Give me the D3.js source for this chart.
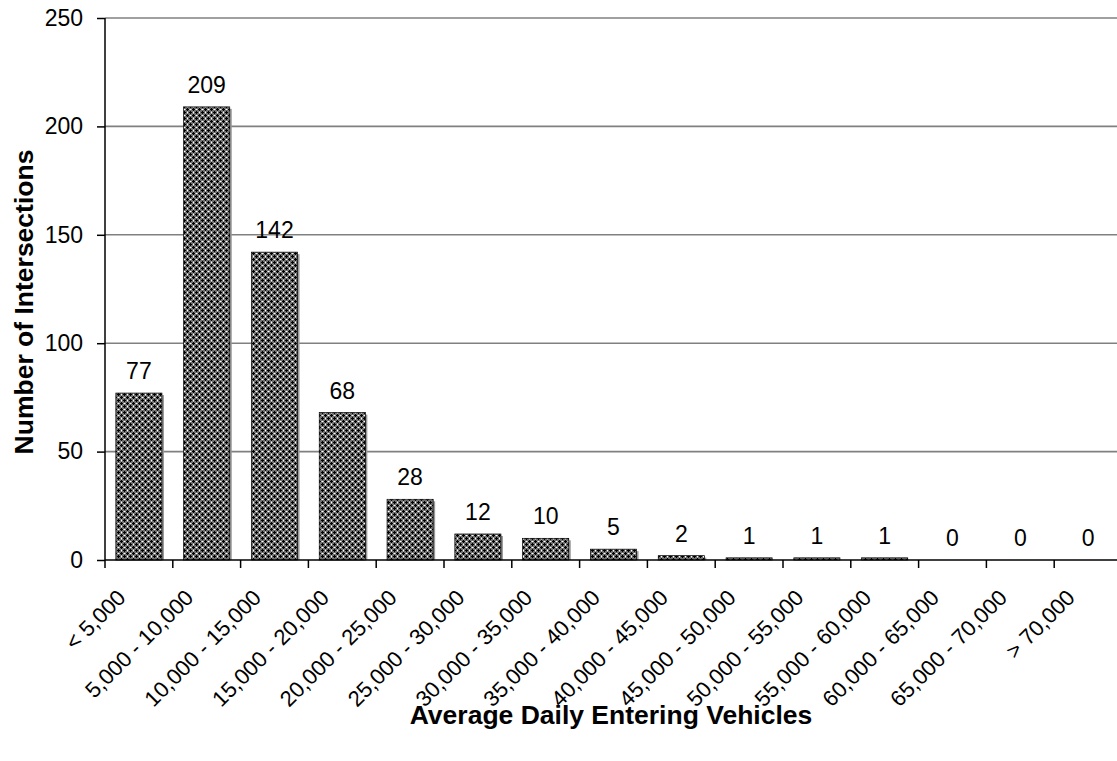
<!DOCTYPE html>
<html>
<head>
<meta charset="utf-8">
<script src="https://cdn.jsdelivr.net/npm/d3@7"></script>
<style>
  html, body { margin: 0; padding: 0; background: #fff; }
  svg { display: block; font-family: "Liberation Sans", Arial, sans-serif; }
</style>
</head>
<body>
<svg id="chart" width="1117" height="761"></svg>
<script>
// Intersection counts by average daily entering vehicle volume
const categories = [
  "< 5,000", "5,000 - 10,000", "10,000 - 15,000", "15,000 - 20,000",
  "20,000 - 25,000", "25,000 - 30,000", "30,000 - 35,000", "35,000 - 40,000",
  "40,000 - 45,000", "45,000 - 50,000", "50,000 - 55,000", "55,000 - 60,000",
  "60,000 - 65,000", "65,000 - 70,000", "> 70,000"
];
const counts = [77, 209, 142, 68, 28, 12, 10, 5, 2, 1, 1, 1, 0, 0, 0];
const yTicks = [0, 50, 100, 150, 200, 250];
const xTitle = "Average Daily Entering Vehicles";
const yTitle = "Number of Intersections";

const svg = d3.select("#chart");
const plotLeft = 105, plotRight = 1122, plotTop = 18, plotBottom = 560;

const x = d3.scaleBand().domain(categories).range([plotLeft, plotRight]).paddingInner(0.32).paddingOuter(0.16);
const xEdge = d3.scaleLinear().domain([0, categories.length]).range([plotLeft, plotRight]);
const y = d3.scaleLinear().domain([0, 250]).range([plotBottom, plotTop]);

// Woven cross-hatch fill for bars
const defs = svg.append("defs");
const pat = defs.append("pattern").attr("id", "hatch")
  .attr("patternUnits", "userSpaceOnUse").attr("width", 6).attr("height", 6);
pat.append("rect").attr("width", 6).attr("height", 6).attr("fill", "#707070");
const cells = [
  [1, 0, "#000"], [0, 1, "#000"], [1, 1, "#000"], [2, 1, "#000"], [1, 2, "#000"],
  [4, 3, "#000"], [3, 4, "#000"], [4, 4, "#000"], [5, 4, "#000"], [4, 5, "#000"],
  [4, 1, "#fff"], [1, 4, "#fff"],
  [3, 1, "#b4b4b4"], [5, 1, "#b4b4b4"], [1, 3, "#b4b4b4"], [1, 5, "#b4b4b4"]
];
cells.forEach(([cx, cy, c]) => {
  pat.append("rect").attr("x", cx).attr("y", cy).attr("width", 1).attr("height", 1).attr("fill", c);
});

// Horizontal gridlines
svg.append("g").selectAll("line").data(yTicks.filter(d => d > 0)).join("line")
  .attr("x1", plotLeft).attr("x2", 1117)
  .attr("y1", d => y(d)).attr("y2", d => y(d))
  .attr("stroke", "#808080").attr("stroke-width", 1.6);

// Bars with a drop shadow
const bars = svg.append("g");
bars.selectAll("rect.shadow").data(counts).join("rect").attr("class", "shadow")
  .attr("x", (d, i) => x(categories[i]) + 2)
  .attr("y", d => y(d) + 2)
  .attr("width", x.bandwidth())
  .attr("height", d => Math.max(0, plotBottom - y(d) - 2))
  .attr("fill", "#999");
bars.selectAll("rect.bar").data(counts).join("rect").attr("class", "bar")
  .attr("x", (d, i) => x(categories[i]))
  .attr("y", d => y(d))
  .attr("width", x.bandwidth())
  .attr("height", d => plotBottom - y(d))
  .attr("fill", "url(#hatch)")
  .attr("stroke", "#000").attr("stroke-width", 0.7);

// Value labels
svg.append("g").selectAll("text").data(counts).join("text")
  .attr("x", (d, i) => x(categories[i]) + x.bandwidth() / 2)
  .attr("y", d => y(d) - 14)
  .attr("text-anchor", "middle")
  .attr("font-size", 23)
  .attr("fill", "#000")
  .text(d => d);

// Y axis
const yAxis = d3.axisLeft(y).tickValues(yTicks).tickSize(8).tickPadding(14);
const gy = svg.append("g").attr("transform", `translate(${plotLeft},0)`).call(yAxis);
gy.select(".domain").attr("stroke", "#000").attr("stroke-width", 1.5).attr("d", `M0,${plotTop}V${plotBottom}`);
gy.selectAll(".tick line").attr("stroke", "#000").attr("stroke-width", 1.5);
gy.selectAll(".tick text").attr("font-size", 23).attr("font-family", "Liberation Sans, Arial, sans-serif").attr("fill", "#000");

// X axis line and category boundary ticks
svg.append("line").attr("x1", plotLeft).attr("x2", 1117).attr("y1", plotBottom).attr("y2", plotBottom)
  .attr("stroke", "#000").attr("stroke-width", 1.5);
svg.append("g").selectAll("line").data(d3.range(categories.length + 1)).join("line")
  .attr("x1", d => xEdge(d)).attr("x2", d => xEdge(d))
  .attr("y1", plotBottom).attr("y2", plotBottom + 8)
  .attr("stroke", "#000").attr("stroke-width", 1.5);

// Rotated category labels
svg.append("g").selectAll("text").data(categories).join("text")
  .attr("transform", d => `translate(${x(d) + x.bandwidth() / 2 - 12},${plotBottom + 39}) rotate(-45)`)
  .attr("text-anchor", "end")
  .attr("font-size", 22)
  .attr("fill", "#000")
  .text(d => d);

// Axis titles
svg.append("text").attr("x", 611).attr("y", 724)
  .attr("text-anchor", "middle").attr("font-size", 26.5).attr("font-weight", "bold")
  .text(xTitle);
svg.append("text").attr("transform", "translate(33,302) rotate(-90)")
  .attr("text-anchor", "middle").attr("font-size", 26.5).attr("font-weight", "bold")
  .text(yTitle);
</script>
</body>
</html>
